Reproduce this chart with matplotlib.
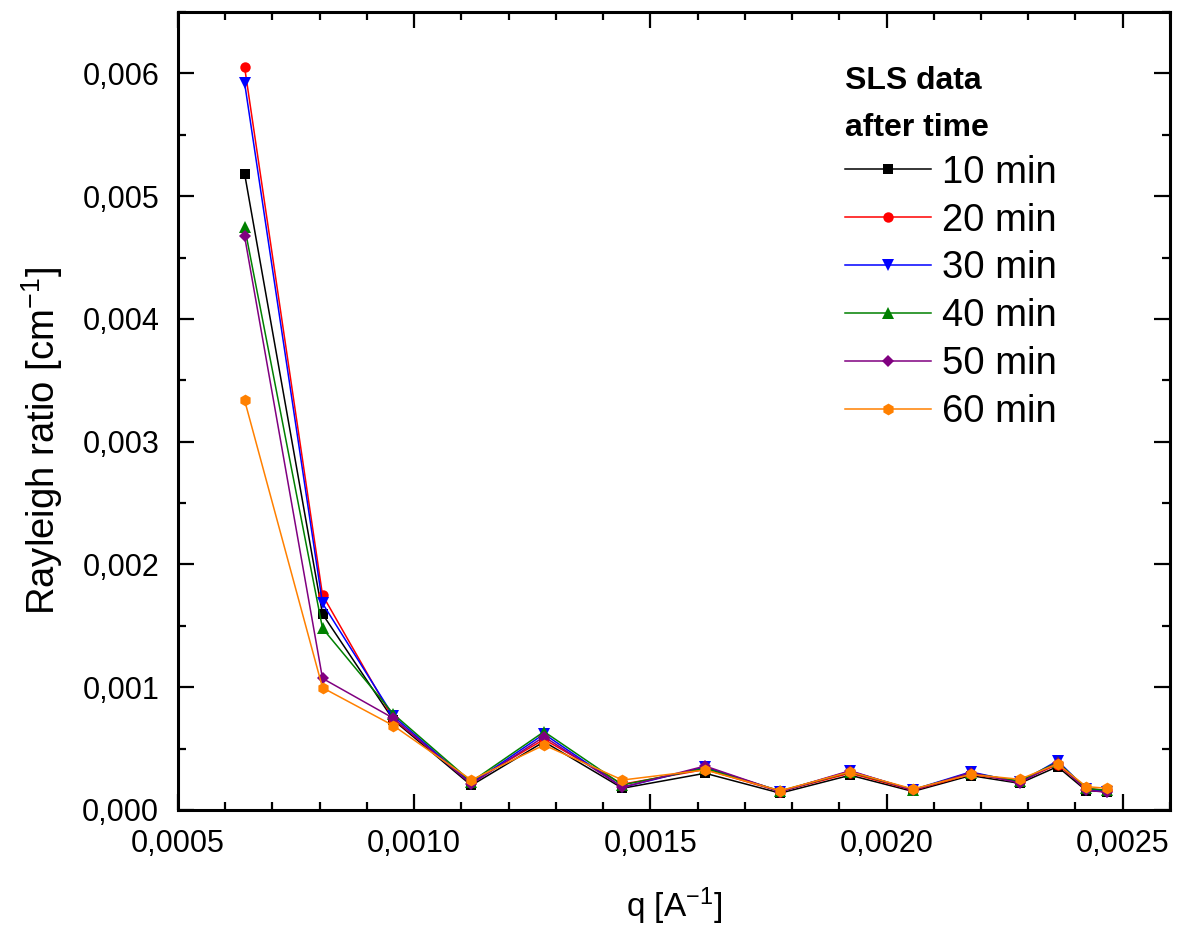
import numpy as np
import matplotlib
matplotlib.use("Agg")
import matplotlib.pyplot as plt
from matplotlib.ticker import MultipleLocator, FuncFormatter

plt.rcParams['font.family'] = ['Liberation Sans', 'DejaVu Sans']
plt.rcParams['mathtext.default'] = 'regular'

# scattering vector q [1/A]
q = [0.000641, 0.000806, 0.000956, 0.001121, 0.001275, 0.001441, 0.001616,
     0.001775, 0.001923, 0.002056, 0.002178, 0.002282, 0.002362, 0.002423,
     0.002466]

# Rayleigh ratio [1/cm] after each time
r10 = [0.005185, 0.001596, 0.000733, 0.000200, 0.000556, 0.000177, 0.000299,
       0.000137, 0.000283, 0.000151, 0.000280, 0.000217, 0.000353, 0.000157,
       0.000150]
r20 = [0.006053, 0.001751, 0.000740, 0.000225, 0.000575, 0.000210, 0.000330,
       0.000150, 0.000300, 0.000160, 0.000290, 0.000235, 0.000370, 0.000175,
       0.000160]
r30 = [0.005925, 0.001683, 0.000765, 0.000215, 0.000619, 0.000185, 0.000350,
       0.000150, 0.000315, 0.000165, 0.000310, 0.000225, 0.000401, 0.000170,
       0.000150]
r40 = [0.004750, 0.001480, 0.000782, 0.000230, 0.000638, 0.000204, 0.000340,
       0.000155, 0.000310, 0.000165, 0.000300, 0.000235, 0.000390, 0.000175,
       0.000160]
r50 = [0.004674, 0.001072, 0.000747, 0.000210, 0.000597, 0.000185, 0.000358,
       0.000150, 0.000320, 0.000160, 0.000305, 0.000220, 0.000385, 0.000160,
       0.000145]
r60 = [0.003339, 0.000996, 0.000687, 0.000244, 0.000529, 0.000244, 0.000326,
       0.000157, 0.000311, 0.000171, 0.000289, 0.000250, 0.000375, 0.000190,
       0.000177]

labels = ['10 min', '20 min', '30 min', '40 min', '50 min', '60 min']
series = [r10, r20, r30, r40, r50, r60]
colors = ['#000000', '#ff0000', '#0000ff', '#008000', '#800080', '#ff8000']
markers = ['s', 'o', 'v', '^', 'D', 'h']
msizes = [6.5, 7.5, 8, 8, 6.5, 8.5]

fig = plt.figure(figsize=(11.88, 9.31), dpi=100)
ax = fig.add_axes([0.1498, 0.13, 0.835, 0.857])

for y, lab, c, m, ms in zip(series, labels, colors, markers, msizes):
    ax.plot(q, y, color=c, marker=m, markersize=ms, linewidth=1.1,
            markeredgewidth=0, label=lab)

ax.set_xlim(0.0005, 0.0026)
ax.set_ylim(0.0, 0.0065)

ax.xaxis.set_major_locator(MultipleLocator(0.0005))
ax.xaxis.set_minor_locator(MultipleLocator(0.0001))
ax.yaxis.set_major_locator(MultipleLocator(0.001))
ax.yaxis.set_minor_locator(MultipleLocator(0.0005))
ax.xaxis.set_major_formatter(FuncFormatter(lambda v, p: f"{v:.4f}".replace('.', ',')))
ax.yaxis.set_major_formatter(FuncFormatter(lambda v, p: f"{v:.3f}".replace('.', ',')))

ax.tick_params(which='both', direction='in', top=True, right=True, width=1.6)
ax.tick_params(which='major', length=11.5, labelsize=22, pad=13.5)
ax.tick_params(which='minor', length=6)
for s in ax.spines.values():
    s.set_linewidth(2.2)

ax.set_xlabel('q [A$^{-1}$]', fontsize=24, labelpad=19)
ax.set_ylabel('Rayleigh ratio [cm$^{-1}$]', fontsize=27.5)
ax.yaxis.set_label_coords(-0.114, 0.463)

leg = ax.legend(title='SLS data\nafter time', loc='upper left',
                bbox_to_anchor=(0.672, 0.932), frameon=False, fontsize=27.5,
                title_fontproperties={'weight': 'bold', 'size': 23},
                alignment='left', handlelength=2.25, handletextpad=0.3,
                labelspacing=0.31, borderpad=0, borderaxespad=0)
leg.get_title().set_linespacing(1.72)

fig.savefig('out.png', dpi=100)
